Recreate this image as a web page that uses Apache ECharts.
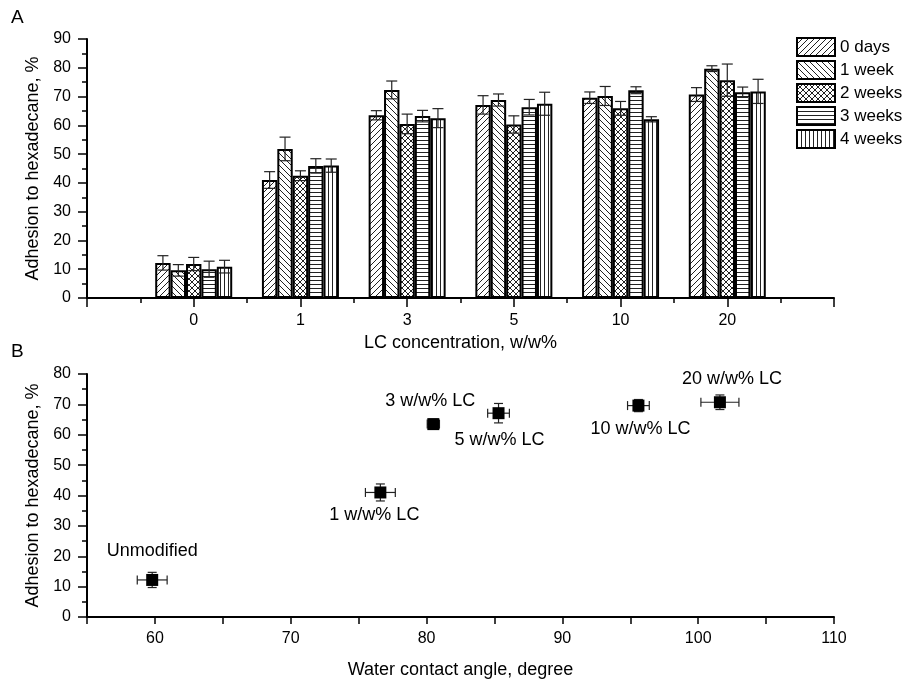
<!DOCTYPE html>
<html><head><meta charset="utf-8">
<script src="https://cdn.jsdelivr.net/npm/echarts@6/dist/echarts.min.js"></script>
<style>html,body{margin:0;padding:0;background:#fff}#c{width:903px;height:684px}</style>
</head><body><div id="c"></div>
<script>
// ---- Panel A data ----
const categories = ['0', '1', '3', '5', '10', '20'];
const seriesNames = ['0 days', '1 week', '2 weeks', '3 weeks', '4 weeks'];
const days0   = [12.2, 41.0, 63.5, 67.1, 69.6, 70.7];
const days0Err = [2.5, 2.9, 1.6, 3.2, 2.0, 2.4];
const week1   = [9.6, 51.8, 72.3, 68.8, 70.2, 79.7];
const week1Err = [2.0, 4.1, 3.1, 2.1, 3.3, 1.0];
const week2   = [11.8, 42.5, 60.5, 60.3, 65.9, 75.7];
const week2Err = [2.3, 1.7, 3.4, 3.0, 2.4, 5.6];
const week3   = [10.0, 45.9, 63.2, 66.3, 72.2, 71.5];
const week3Err = [2.8, 2.5, 2.0, 2.7, 1.2, 1.8];
const week4   = [10.9, 46.0, 62.5, 67.5, 62.1, 71.8];
const week4Err = [2.2, 2.3, 3.3, 4.0, 0.9, 4.2];
// ---- Panel B data ----
const pointLabels = ['Unmodified', '1 w/w% LC', '3 w/w% LC', '5 w/w% LC', '10 w/w% LC', '20 w/w% LC'];
const contactAngle = [59.8, 76.6, 80.5, 85.3, 95.6, 101.6];
const contactAngleErr = [1.1, 1.1, 0.45, 0.8, 0.8, 1.4];
const adhesion = [12.2, 41.0, 63.5, 67.1, 69.6, 70.7];
const adhesionErr = [2.5, 2.8, 1.6, 3.2, 2.0, 2.4];

const values = [days0, week1, week2, week3, week4];
const errs = [days0Err, week1Err, week2Err, week3Err, week4Err];

// label placement (style, not data)
const labelPos = ['top', 'bottom', 'top', 'bottom', 'bottom', 'top'];
const labelDist = [14, 8, 8, 12, 8, 8];
const labelOffX = [0, -6, -3, 1, 2, 12];

const FONT = 'Arial, "Liberation Sans", sans-serif';
const BAR_W = 15.4;

function makePattern(kind) {
  const s = (kind === 'h' || kind === 'v') ? 4 : 6;
  const c = document.createElement('canvas');
  c.width = s; c.height = s;
  const g = c.getContext('2d');
  g.fillStyle = '#fff'; g.fillRect(0, 0, s, s);
  g.strokeStyle = '#222'; g.lineWidth = 1;
  g.beginPath();
  if (kind === 'f' || kind === 'x') {
    g.moveTo(0, s); g.lineTo(s, 0);
    g.moveTo(-1, 1); g.lineTo(1, -1);
    g.moveTo(s - 1, s + 1); g.lineTo(s + 1, s - 1);
  }
  if (kind === 'b' || kind === 'x') {
    g.moveTo(0, 0); g.lineTo(s, s);
    g.moveTo(-1, s - 1); g.lineTo(1, s + 1);
    g.moveTo(s - 1, -1); g.lineTo(s + 1, 1);
  }
  if (kind === 'h') { g.moveTo(0, 0.5); g.lineTo(s, 0.5); }
  if (kind === 'v') { g.moveTo(0.5, 0); g.lineTo(0.5, s); }
  g.stroke();
  return c;
}
const patterns = ['f', 'b', 'x', 'h', 'v'].map(makePattern);

const axisLine = { show: true, onZero: false, lineStyle: { color: '#000', width: 2 } };
const axisTick = { show: true, inside: false, length: 9, lineStyle: { color: '#000', width: 1.5 } };
const minorTick = { show: true, splitNumber: 2, length: 5, lineStyle: { color: '#000', width: 1.5 } };
const labelStyle = { color: '#000', fontSize: 16, fontFamily: FONT };
const nameStyle = { color: '#000', fontSize: 18, fontFamily: FONT };

const series = [];
seriesNames.forEach((name, k) => {
  series.push({
    type: 'bar', name, xAxisIndex: 0, yAxisIndex: 0,
    data: values[k].map((v, i) => [i, v]),
    barWidth: BAR_W, barGap: '0%',
    itemStyle: { color: { image: patterns[k], repeat: 'repeat' }, borderColor: '#000', borderWidth: 2 },
    emphasis: { disabled: true }
  });
});
seriesNames.forEach((name, k) => {
  series.push({
    type: 'custom', xAxisIndex: 0, yAxisIndex: 0, z: 5, silent: true,
    data: values[k].map((v, i) => [i, v, errs[k][i]]),
    renderItem(params, api) {
      const i = api.value(0), v = api.value(1), e = api.value(2);
      const top = api.coord([i, v + e]), bot = api.coord([i, v - e]);
      const x = top[0] + (k - 2) * BAR_W;
      const hw = 5.5, st = { stroke: '#222', lineWidth: 1.2 };
      return { type: 'group', children: [
        { type: 'line', shape: { x1: x, y1: top[1], x2: x, y2: bot[1] }, style: st },
        { type: 'line', shape: { x1: x - hw, y1: top[1], x2: x + hw, y2: top[1] }, style: st },
        { type: 'line', shape: { x1: x - hw, y1: bot[1], x2: x + hw, y2: bot[1] }, style: st }
      ] };
    }
  });
});
// Panel B error bars
series.push({
  type: 'custom', xAxisIndex: 1, yAxisIndex: 1, z: 3, silent: true,
  data: contactAngle.map((x, i) => [x, adhesion[i], contactAngleErr[i], adhesionErr[i]]),
  renderItem(params, api) {
    const x = api.value(0), y = api.value(1), ex = api.value(2), ey = api.value(3);
    const l = api.coord([x - ex, y]), r = api.coord([x + ex, y]);
    const t = api.coord([x, y + ey]), b = api.coord([x, y - ey]);
    const hw = 4.5, st = { stroke: '#222', lineWidth: 1.2 };
    return { type: 'group', children: [
      { type: 'line', shape: { x1: l[0], y1: l[1], x2: r[0], y2: r[1] }, style: st },
      { type: 'line', shape: { x1: l[0], y1: l[1] - hw, x2: l[0], y2: l[1] + hw }, style: st },
      { type: 'line', shape: { x1: r[0], y1: r[1] - hw, x2: r[0], y2: r[1] + hw }, style: st },
      { type: 'line', shape: { x1: t[0], y1: t[1], x2: b[0], y2: b[1] }, style: st },
      { type: 'line', shape: { x1: t[0] - hw, y1: t[1], x2: t[0] + hw, y2: t[1] }, style: st },
      { type: 'line', shape: { x1: b[0] - hw, y1: b[1], x2: b[0] + hw, y2: b[1] }, style: st }
    ] };
  }
});
series.push({
  type: 'scatter', xAxisIndex: 1, yAxisIndex: 1, z: 4,
  symbol: 'rect', symbolSize: 12,
  itemStyle: { color: '#000', opacity: 1 },
  emphasis: { disabled: true },
  data: contactAngle.map((x, i) => ({
    value: [x, adhesion[i]],
    label: {
      show: true, formatter: pointLabels[i], position: labelPos[i],
      distance: labelDist[i], offset: [labelOffX[i], 0],
      color: '#000', opacity: 1, fontSize: 18, fontFamily: FONT
    }
  }))
});

const chart = echarts.init(document.getElementById('c'), null, { renderer: 'canvas' });
chart.setOption({
  animation: false,
  backgroundColor: '#fff',
  grid: [
    { left: 87, top: 39, width: 747, height: 259, containLabel: false },
    { left: 87, top: 374, width: 747, height: 243, containLabel: false }
  ],
  legend: {
    data: seriesNames, orient: 'vertical', left: 796, top: 37, padding: 0,
    itemWidth: 38, itemHeight: 18, itemGap: 3, icon: 'rect',
    textStyle: { color: '#000', fontSize: 17, fontFamily: FONT },
    selectedMode: false
  },
  xAxis: [
    {
      gridIndex: 0, type: 'value', min: -1, max: 6, interval: 1,
      name: 'LC concentration, w/w%', nameLocation: 'middle', nameGap: 36, nameTextStyle: nameStyle,
      axisLine, axisTick, minorTick, splitLine: { show: false }, minorSplitLine: { show: false },
      axisLabel: Object.assign({ margin: 15, formatter: v => categories[Math.round(v)] ?? '' }, labelStyle)
    },
    {
      gridIndex: 1, type: 'value', min: 55, max: 110, interval: 5,
      name: 'Water contact angle, degree', nameLocation: 'middle', nameGap: 44, nameTextStyle: nameStyle,
      axisLine, axisTick: Object.assign({}, axisTick, { length: 7 }), splitLine: { show: false },
      axisLabel: Object.assign({ margin: 14, showMinLabel: true, formatter: v => (Math.round(v) % 10 === 0 ? String(Math.round(v)) : '') }, labelStyle)
    }
  ],
  yAxis: [
    {
      gridIndex: 0, type: 'value', min: 0, max: 90, interval: 10,
      name: 'Adhesion to hexadecane, %', nameLocation: 'middle', nameGap: 40, nameTextStyle: nameStyle,
      axisLine, axisTick, minorTick, splitLine: { show: false }, minorSplitLine: { show: false },
      axisLabel: Object.assign({ margin: 16 }, labelStyle)
    },
    {
      gridIndex: 1, type: 'value', min: 0, max: 80, interval: 10,
      name: 'Adhesion to hexadecane, %', nameLocation: 'middle', nameGap: 40, nameTextStyle: nameStyle,
      axisLine, axisTick, minorTick, splitLine: { show: false }, minorSplitLine: { show: false },
      axisLabel: Object.assign({ margin: 16 }, labelStyle)
    }
  ],
  graphic: [
    { type: 'text', left: 11, top: 8, style: { text: 'A', fontSize: 19, fontFamily: FONT, fill: '#000' } },
    { type: 'text', left: 11, top: 342, style: { text: 'B', fontSize: 19, fontFamily: FONT, fill: '#000' } }
  ],
  series
});
</script></body></html>
